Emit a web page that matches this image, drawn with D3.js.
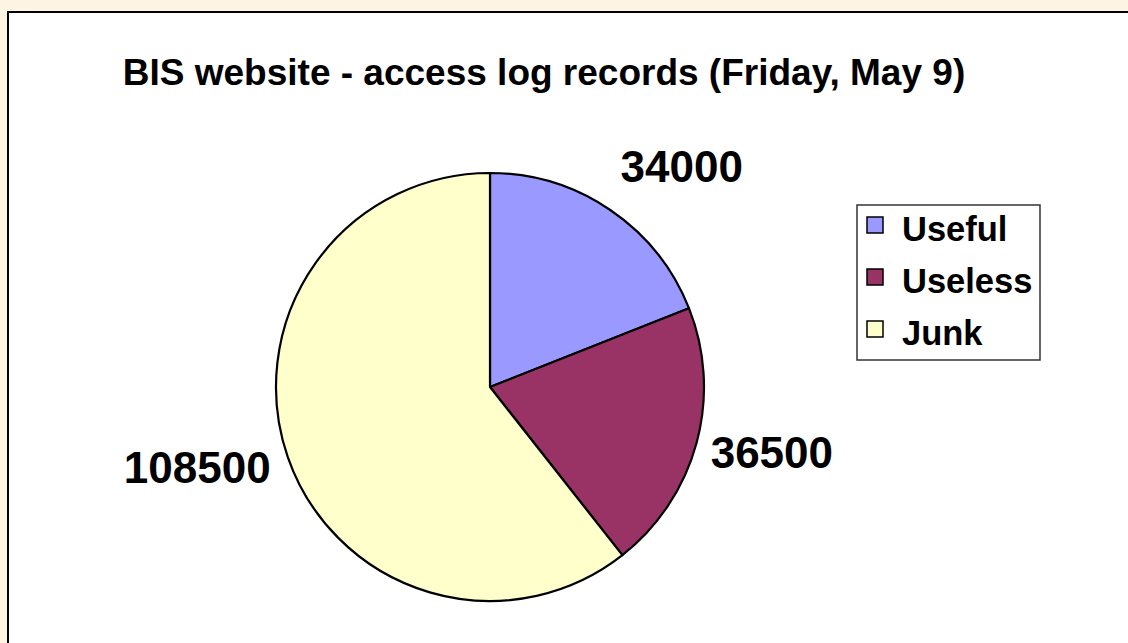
<!DOCTYPE html>
<html>
<head>
<style>
  body { margin: 0; background: #fdf5e2; }
  svg { display: block; }
  text { font-family: "Liberation Sans", Arial, sans-serif; font-weight: bold; fill: #000; }
</style>
</head>
<body>
<svg width="1128" height="643"></svg>
<script src="https://d3js.org/d3.v7.min.js"></script>
<script>

const categories = ["Useful", "Useless", "Junk"];
const values = [34000, 36500, 108500];
const colors = ["#9999ff", "#993366", "#ffffcc"];
const title = "BIS website - access log records (Friday, May 9)";

const svg = d3.select("svg");

// white chart area with a black frame that runs off the right/bottom edge
svg.append("rect")
  .attr("x", 8).attr("y", 12)
  .attr("width", 1140).attr("height", 660)
  .attr("fill", "#fff")
  .attr("stroke", "#000")
  .attr("stroke-width", 2);

svg.append("text")
  .attr("x", 544).attr("y", 85)
  .attr("text-anchor", "middle")
  .style("font-size", "37px")
  .text(title);

const cx = 490, cy = 387, r = 214;

const pie = d3.pie().sort(null).value(d => d.value);
const arcs = pie(categories.map((c, i) => ({ name: c, value: values[i], color: colors[i] })));
const arc = d3.arc().innerRadius(0).outerRadius(r);

const g = svg.append("g").attr("transform", `translate(${cx},${cy})`);

g.selectAll("path")
  .data(arcs)
  .enter()
  .append("path")
  .attr("d", arc)
  .attr("fill", d => d.data.color)
  .attr("stroke", "#000")
  .attr("stroke-width", 2.2)
  .attr("stroke-linejoin", "round");

// value labels out past the rim, nudged a bit like Excel does
const labelArc = d3.arc().innerRadius(295).outerRadius(295);
const nudge = { Useful: [26, 23], Useless: [-3, -12], Junk: [-14, -16] };

g.selectAll("text.val")
  .data(arcs)
  .enter()
  .append("text")
  .attr("class", "val")
  .attr("x", d => labelArc.centroid(d)[0] + nudge[d.data.name][0])
  .attr("y", d => labelArc.centroid(d)[1] + nudge[d.data.name][1])
  .attr("dy", "0.36em")
  .attr("text-anchor", "middle")
  .style("font-size", "44px")
  .text(d => d.data.value);

// legend
const legend = svg.append("g").attr("transform", "translate(857,205)");
legend.append("rect")
  .attr("width", 183).attr("height", 155)
  .attr("fill", "#fff")
  .attr("stroke", "#333")
  .attr("stroke-width", 1.5);

const item = legend.selectAll("g.item")
  .data(categories)
  .enter()
  .append("g")
  .attr("class", "item")
  .attr("transform", (d, i) => `translate(0,${i * 52})`);

item.append("rect")
  .attr("x", 10).attr("y", 12)
  .attr("width", 16).attr("height", 16)
  .attr("fill", (d, i) => colors[i])
  .attr("stroke", "#000")
  .attr("stroke-width", 1.5);

item.append("text")
  .attr("x", 45).attr("y", 36)
  .style("font-size", "34.5px")
  .text(d => d);

</script>
</body>
</html>
